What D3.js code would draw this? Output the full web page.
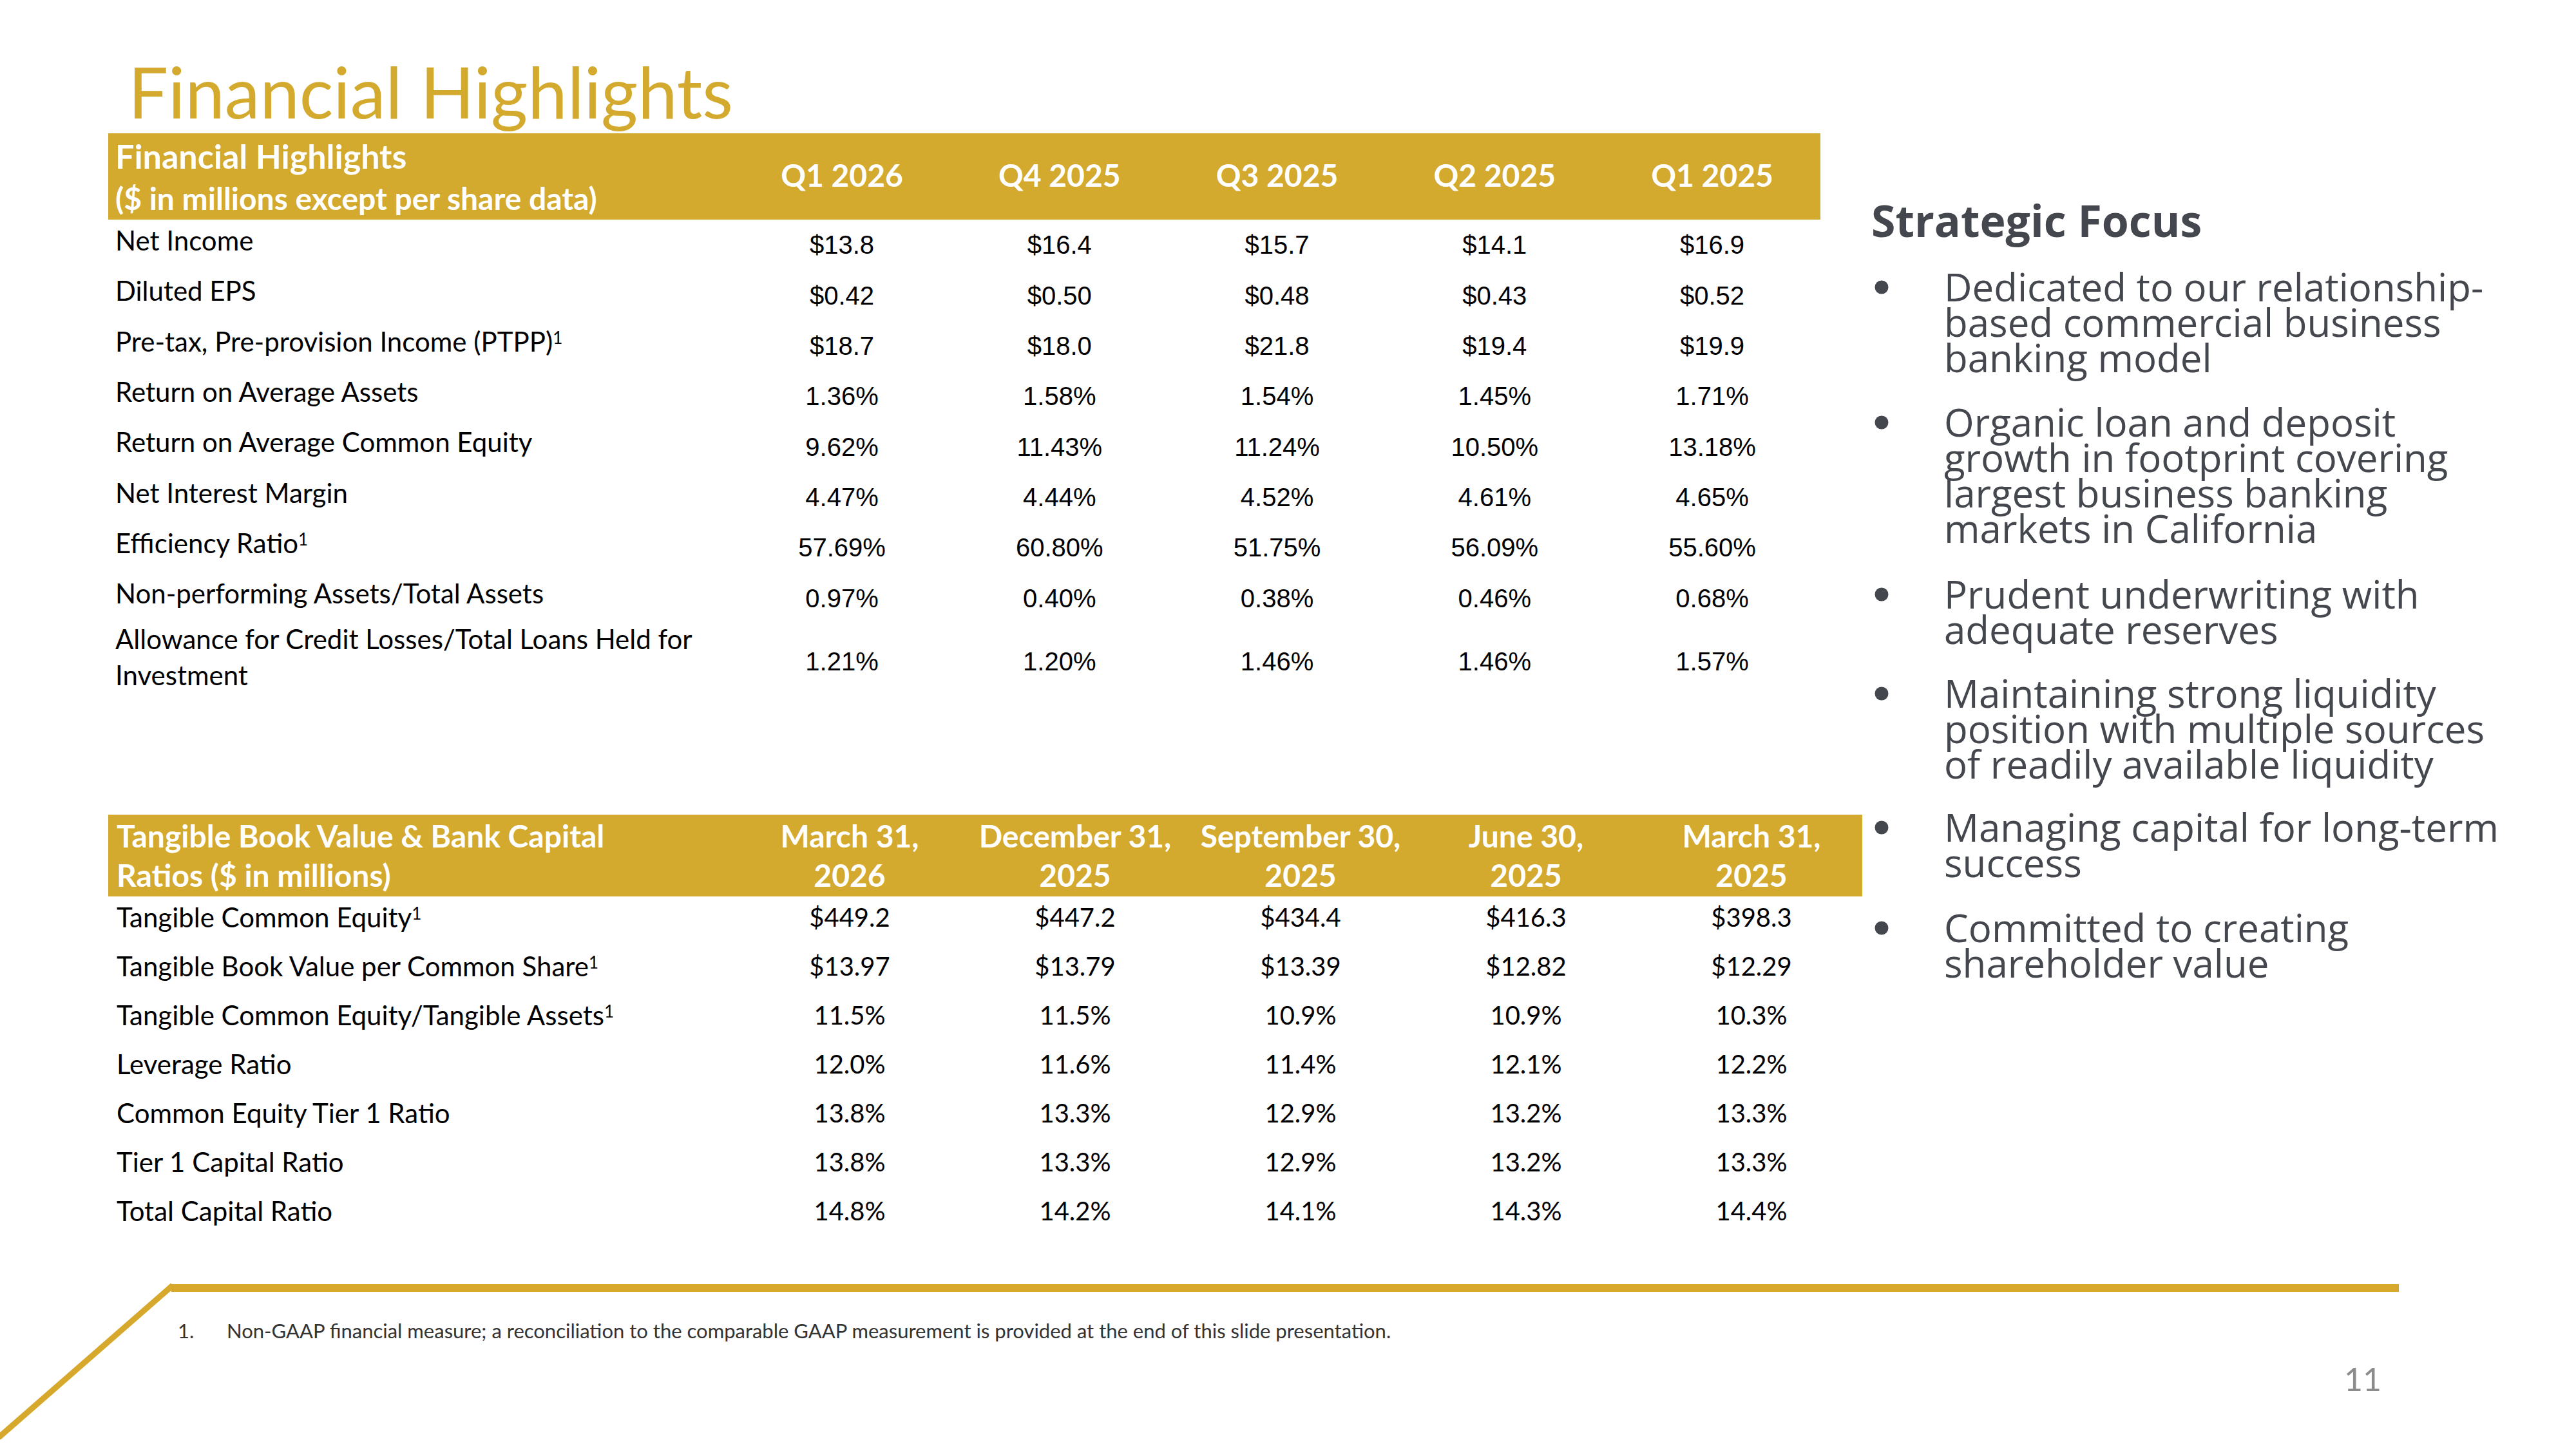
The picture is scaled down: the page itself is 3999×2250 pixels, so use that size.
<!DOCTYPE html>
<html>
<head>
<meta charset="utf-8">
<script src="https://cdn.jsdelivr.net/npm/d3@7"></script>
<style>
  html, body { margin: 0; padding: 0; background: #fff; }
  svg { display: block; }
</style>
</head>
<body>
<div id="slide"></div>
<script>
"use strict";

/* ── Table 1 data: quarterly highlights ── */
const quarters = ["Q1 2026", "Q4 2025", "Q3 2025", "Q2 2025", "Q1 2025"];

const finLabels = [
  ["Net Income"],
  ["Diluted EPS"],
  ["Pre-tax, Pre-provision Income (PTPP)"],
  ["Return on Average Assets"],
  ["Return on Average Common Equity"],
  ["Net Interest Margin"],
  ["Efficiency Ratio"],
  ["Non-performing Assets/Total Assets"],
  ["Allowance for Credit Losses/Total Loans Held for", "Investment"]
];
const finNoted = [false, false, true, false, false, false, true, false, false];
const finFormat = ["$1", "$2", "$1", "%2", "%2", "%2", "%2", "%2", "%2"];

const netIncome   = [13.8, 16.4, 15.7, 14.1, 16.9];
const dilutedEps  = [0.42, 0.50, 0.48, 0.43, 0.52];
const ptppIncome  = [18.7, 18.0, 21.8, 19.4, 19.9];
const roaa        = [1.36, 1.58, 1.54, 1.45, 1.71];
const roace       = [9.62, 11.43, 11.24, 10.50, 13.18];
const nim         = [4.47, 4.44, 4.52, 4.61, 4.65];
const efficiency  = [57.69, 60.80, 51.75, 56.09, 55.60];
const npaRatio    = [0.97, 0.40, 0.38, 0.46, 0.68];
const aclRatio    = [1.21, 1.20, 1.46, 1.46, 1.57];

/* ── Table 2 data: tangible book value & capital ── */
const dates = [
  ["March 31,", "2026"],
  ["December 31,", "2025"],
  ["September 30,", "2025"],
  ["June 30,", "2025"],
  ["March 31,", "2025"]
];

const capLabels = [
  "Tangible Common Equity",
  "Tangible Book Value per Common Share",
  "Tangible Common Equity/Tangible Assets",
  "Leverage Ratio",
  "Common Equity Tier 1 Ratio",
  "Tier 1 Capital Ratio",
  "Total Capital Ratio"
];
const capNoted = [true, true, true, false, false, false, false];
const capFormat = ["$1", "$2", "%1", "%1", "%1", "%1", "%1"];

const tce         = [449.2, 447.2, 434.4, 416.3, 398.3];
const tbvPerShare = [13.97, 13.79, 13.39, 12.82, 12.29];
const tceToTa     = [11.5, 11.5, 10.9, 10.9, 10.3];
const leverage    = [12.0, 11.6, 11.4, 12.1, 12.2];
const cet1        = [13.8, 13.3, 12.9, 13.2, 13.3];
const tier1       = [13.8, 13.3, 12.9, 13.2, 13.3];
const totalCap    = [14.8, 14.2, 14.1, 14.3, 14.4];

/* ── Side panel ── */
const focusTitle = "Strategic Focus";
const focusBullets = [
  ["Dedicated to our relationship-", "based commercial business", "banking model"],
  ["Organic loan and deposit", "growth in footprint covering", "largest business banking", "markets in California"],
  ["Prudent underwriting with", "adequate reserves"],
  ["Maintaining strong liquidity", "position with multiple sources", "of readily available liquidity"],
  ["Managing capital for long-term", "success"],
  ["Committed to creating", "shareholder value"]
];

const footnote = "Non-GAAP financial measure; a reconciliation to the comparable GAAP measurement is provided at the end of this slide presentation.";
const pageNumber = "11";

/* ── Look ── */
const W = 3999, H = 2250;
const GOLD = "#D3A92E";
const INK = "#44474D";
const LABEL_FONT = "Lato, 'Open Sans', sans-serif";
const NUM_FONT = "'Liberation Sans', Arial, sans-serif";
const PANEL_FONT = "'Open Sans', 'Noto Sans', sans-serif";

function fmt(code, v) {
  const s = d3.format(`.${code[1]}f`)(v);
  return code[0] === "$" ? "$" + s : s + "%";
}

function renderSlide() {
  const svg = d3.select("#slide").append("svg")
    .attr("width", W).attr("height", H)
    .attr("viewBox", `0 0 ${W} ${H}`);

  /* ── Title ── */
  svg.append("text")
    .attr("x", 199).attr("y", 184)
    .attr("font-family", LABEL_FONT).attr("font-size", 110)
    .attr("fill", GOLD)
    .text("Financial Highlights");

  renderFinTable(svg);
  renderCapTable(svg);
  renderFocus(svg);
  renderFooter(svg);
}

function renderFinTable(svg) {
  const series = [netIncome, dilutedEps, ptppIncome, roaa, roace, nim, efficiency, npaRatio, aclRatio];

  const x = d3.scalePoint().domain(quarters).range([1307, 2658]);

  // rows with wrapped labels take a little extra room
  let extra = 0;
  const slots = finLabels.map((lines, i) => { extra += (lines.length - 1) * 0.26; return i + extra; });
  const y = d3.scaleLinear().domain([0, 1]).range([380, 458.3]);

  /* ── Header bar ── */
  const g = svg.append("g");
  g.append("rect")
    .attr("x", 168).attr("y", 207)
    .attr("width", 2826 - 168).attr("height", 134)
    .attr("fill", GOLD);

  g.append("text")
    .attr("x", 179).attr("y", 243).attr("dy", "0.36em")
    .attr("font-family", LABEL_FONT).attr("font-weight", 700).attr("font-size", 52)
    .attr("fill", "#fff").text("Financial Highlights");
  g.append("text")
    .attr("x", 179).attr("y", 309).attr("dy", "0.36em")
    .attr("font-family", LABEL_FONT).attr("font-weight", 700).attr("font-size", 48)
    .attr("fill", "#fff").text("($ in millions except per share data)");

  g.selectAll(".q-head")
    .data(quarters)
    .join("text")
    .attr("class", "q-head")
    .attr("x", d => x(d)).attr("y", 273).attr("dy", "0.36em")
    .attr("text-anchor", "middle")
    .attr("font-family", LABEL_FONT).attr("font-weight", 700).attr("font-size", 48)
    .attr("fill", "#fff")
    .text(d => d);

  /* ── Row labels ── */
  finLabels.forEach((lines, i) => {
    const cy = y(slots[i]) - 6;
    lines.forEach((line, j) => {
      const t = g.append("text")
        .attr("x", 179)
        .attr("y", cy + (j - (lines.length - 1) / 2) * 56)
        .attr("dy", "0.36em")
        .attr("font-family", LABEL_FONT).attr("font-size", 42)
        .attr("fill", "#000")
        .text(line);
      if (finNoted[i] && j === lines.length - 1) {
        t.append("tspan").attr("dy", "-0.45em").attr("font-size", 26).text("1");
      }
    });
  });

  /* ── Values ── */
  const cells = [];
  series.forEach((vals, i) => vals.forEach((v, k) => cells.push({ row: i, col: quarters[k], v })));

  g.selectAll(".fin-val")
    .data(cells)
    .join("text")
    .attr("class", "fin-val")
    .attr("x", d => x(d.col))
    .attr("y", d => y(slots[d.row])).attr("dy", "0.36em")
    .attr("text-anchor", "middle")
    .attr("font-family", NUM_FONT).attr("font-size", 40)
    .attr("fill", "#000")
    .text(d => fmt(finFormat[d.row], d.v));
}

function renderCapTable(svg) {
  const series = [tce, tbvPerShare, tceToTa, leverage, cet1, tier1, totalCap];
  const keys = dates.map(d => d.join(" "));

  const x = d3.scalePoint().domain(keys).range([1319, 2719]);
  const y = d3.scalePoint().domain(capLabels).range([1425, 1881]);

  const g = svg.append("g");
  g.append("rect")
    .attr("x", 168).attr("y", 1265)
    .attr("width", 2891 - 168).attr("height", 127)
    .attr("fill", GOLD);

  [["Tangible Book Value & Bank Capital", 1299], ["Ratios ($ in millions)", 1360]].forEach(([txt, cy]) => {
    g.append("text")
      .attr("x", 181).attr("y", cy).attr("dy", "0.36em")
      .attr("font-family", LABEL_FONT).attr("font-weight", 700).attr("font-size", 48)
      .attr("fill", "#fff").text(txt);
  });

  dates.forEach((lines, k) => {
    lines.forEach((line, j) => {
      g.append("text")
        .attr("x", x(keys[k])).attr("y", j === 0 ? 1299 : 1360).attr("dy", "0.36em")
        .attr("text-anchor", "middle")
        .attr("font-family", LABEL_FONT).attr("font-weight", 700).attr("font-size", 48)
        .attr("fill", "#fff").text(line);
    });
  });

  /* ── Row labels ── */
  g.selectAll(".cap-label")
    .data(capLabels)
    .join("text")
    .attr("class", "cap-label")
    .attr("x", 181).attr("y", d => y(d)).attr("dy", "0.36em")
    .attr("font-family", LABEL_FONT).attr("font-size", 42)
    .attr("fill", "#000")
    .text(d => d)
    .each(function (d, i) {
      if (capNoted[i]) d3.select(this).append("tspan").attr("dy", "-0.45em").attr("font-size", 26).text("1");
    });

  /* ── Values ── */
  const cells = [];
  series.forEach((vals, i) => vals.forEach((v, k) => cells.push({ row: i, col: keys[k], v })));

  g.selectAll(".cap-val")
    .data(cells)
    .join("text")
    .attr("class", "cap-val")
    .attr("x", d => x(d.col))
    .attr("y", d => y(capLabels[d.row])).attr("dy", "0.36em")
    .attr("text-anchor", "middle")
    .attr("font-family", LABEL_FONT).attr("font-size", 40)
    .attr("fill", "#000")
    .text(d => fmt(capFormat[d.row], d.v));
}

function renderFocus(svg) {
  const g = svg.append("g");
  g.append("text")
    .attr("x", 2905).attr("y", 368)
    .attr("font-family", PANEL_FONT).attr("font-weight", 700).attr("font-size", 68)
    .attr("fill", INK)
    .text(focusTitle);

  const firstBaselines = [468, 678, 945, 1099, 1307, 1463];
  const lineH = 55;

  focusBullets.forEach((lines, i) => {
    g.append("circle")
      .attr("cx", 2921).attr("cy", firstBaselines[i] - 22)
      .attr("r", 10.5)
      .attr("fill", INK);

    // one text block per bullet, lines set tight like the slide
    const t = g.append("text")
      .attr("x", 3018).attr("y", firstBaselines[i])
      .attr("font-family", PANEL_FONT).attr("font-size", 60)
      .attr("fill", INK);
    lines.forEach((line, j) => {
      t.append("tspan")
        .attr("x", 3018).attr("dy", j === 0 ? 0 : lineH)
        .text(line);
    });
  });
}

function renderFooter(svg) {
  /* ── Gold rule with slanted leg ── */
  svg.append("rect")
    .attr("x", 266).attr("y", 1994)
    .attr("width", 3724 - 266).attr("height", 12)
    .attr("fill", "#D6A82C");
  svg.append("line")
    .attr("x1", 268).attr("y1", 1996)
    .attr("x2", -2).attr("y2", 2232)
    .attr("stroke", "#D6A82C").attr("stroke-width", 9);

  svg.append("text")
    .attr("x", 276).attr("y", 2078)
    .attr("font-family", LABEL_FONT).attr("font-size", 31)
    .attr("fill", "#333")
    .text("1.");
  svg.append("text")
    .attr("x", 352).attr("y", 2078)
    .attr("font-family", LABEL_FONT).attr("font-size", 31)
    .attr("fill", "#333")
    .text(footnote);

  svg.append("text")
    .attr("x", 3668).attr("y", 2160)
    .attr("text-anchor", "middle")
    .attr("font-family", LABEL_FONT).attr("font-size", 50)
    .attr("fill", "#8C8C8C")
    .text(pageNumber);
}

renderSlide();
</script>
</body>
</html>
